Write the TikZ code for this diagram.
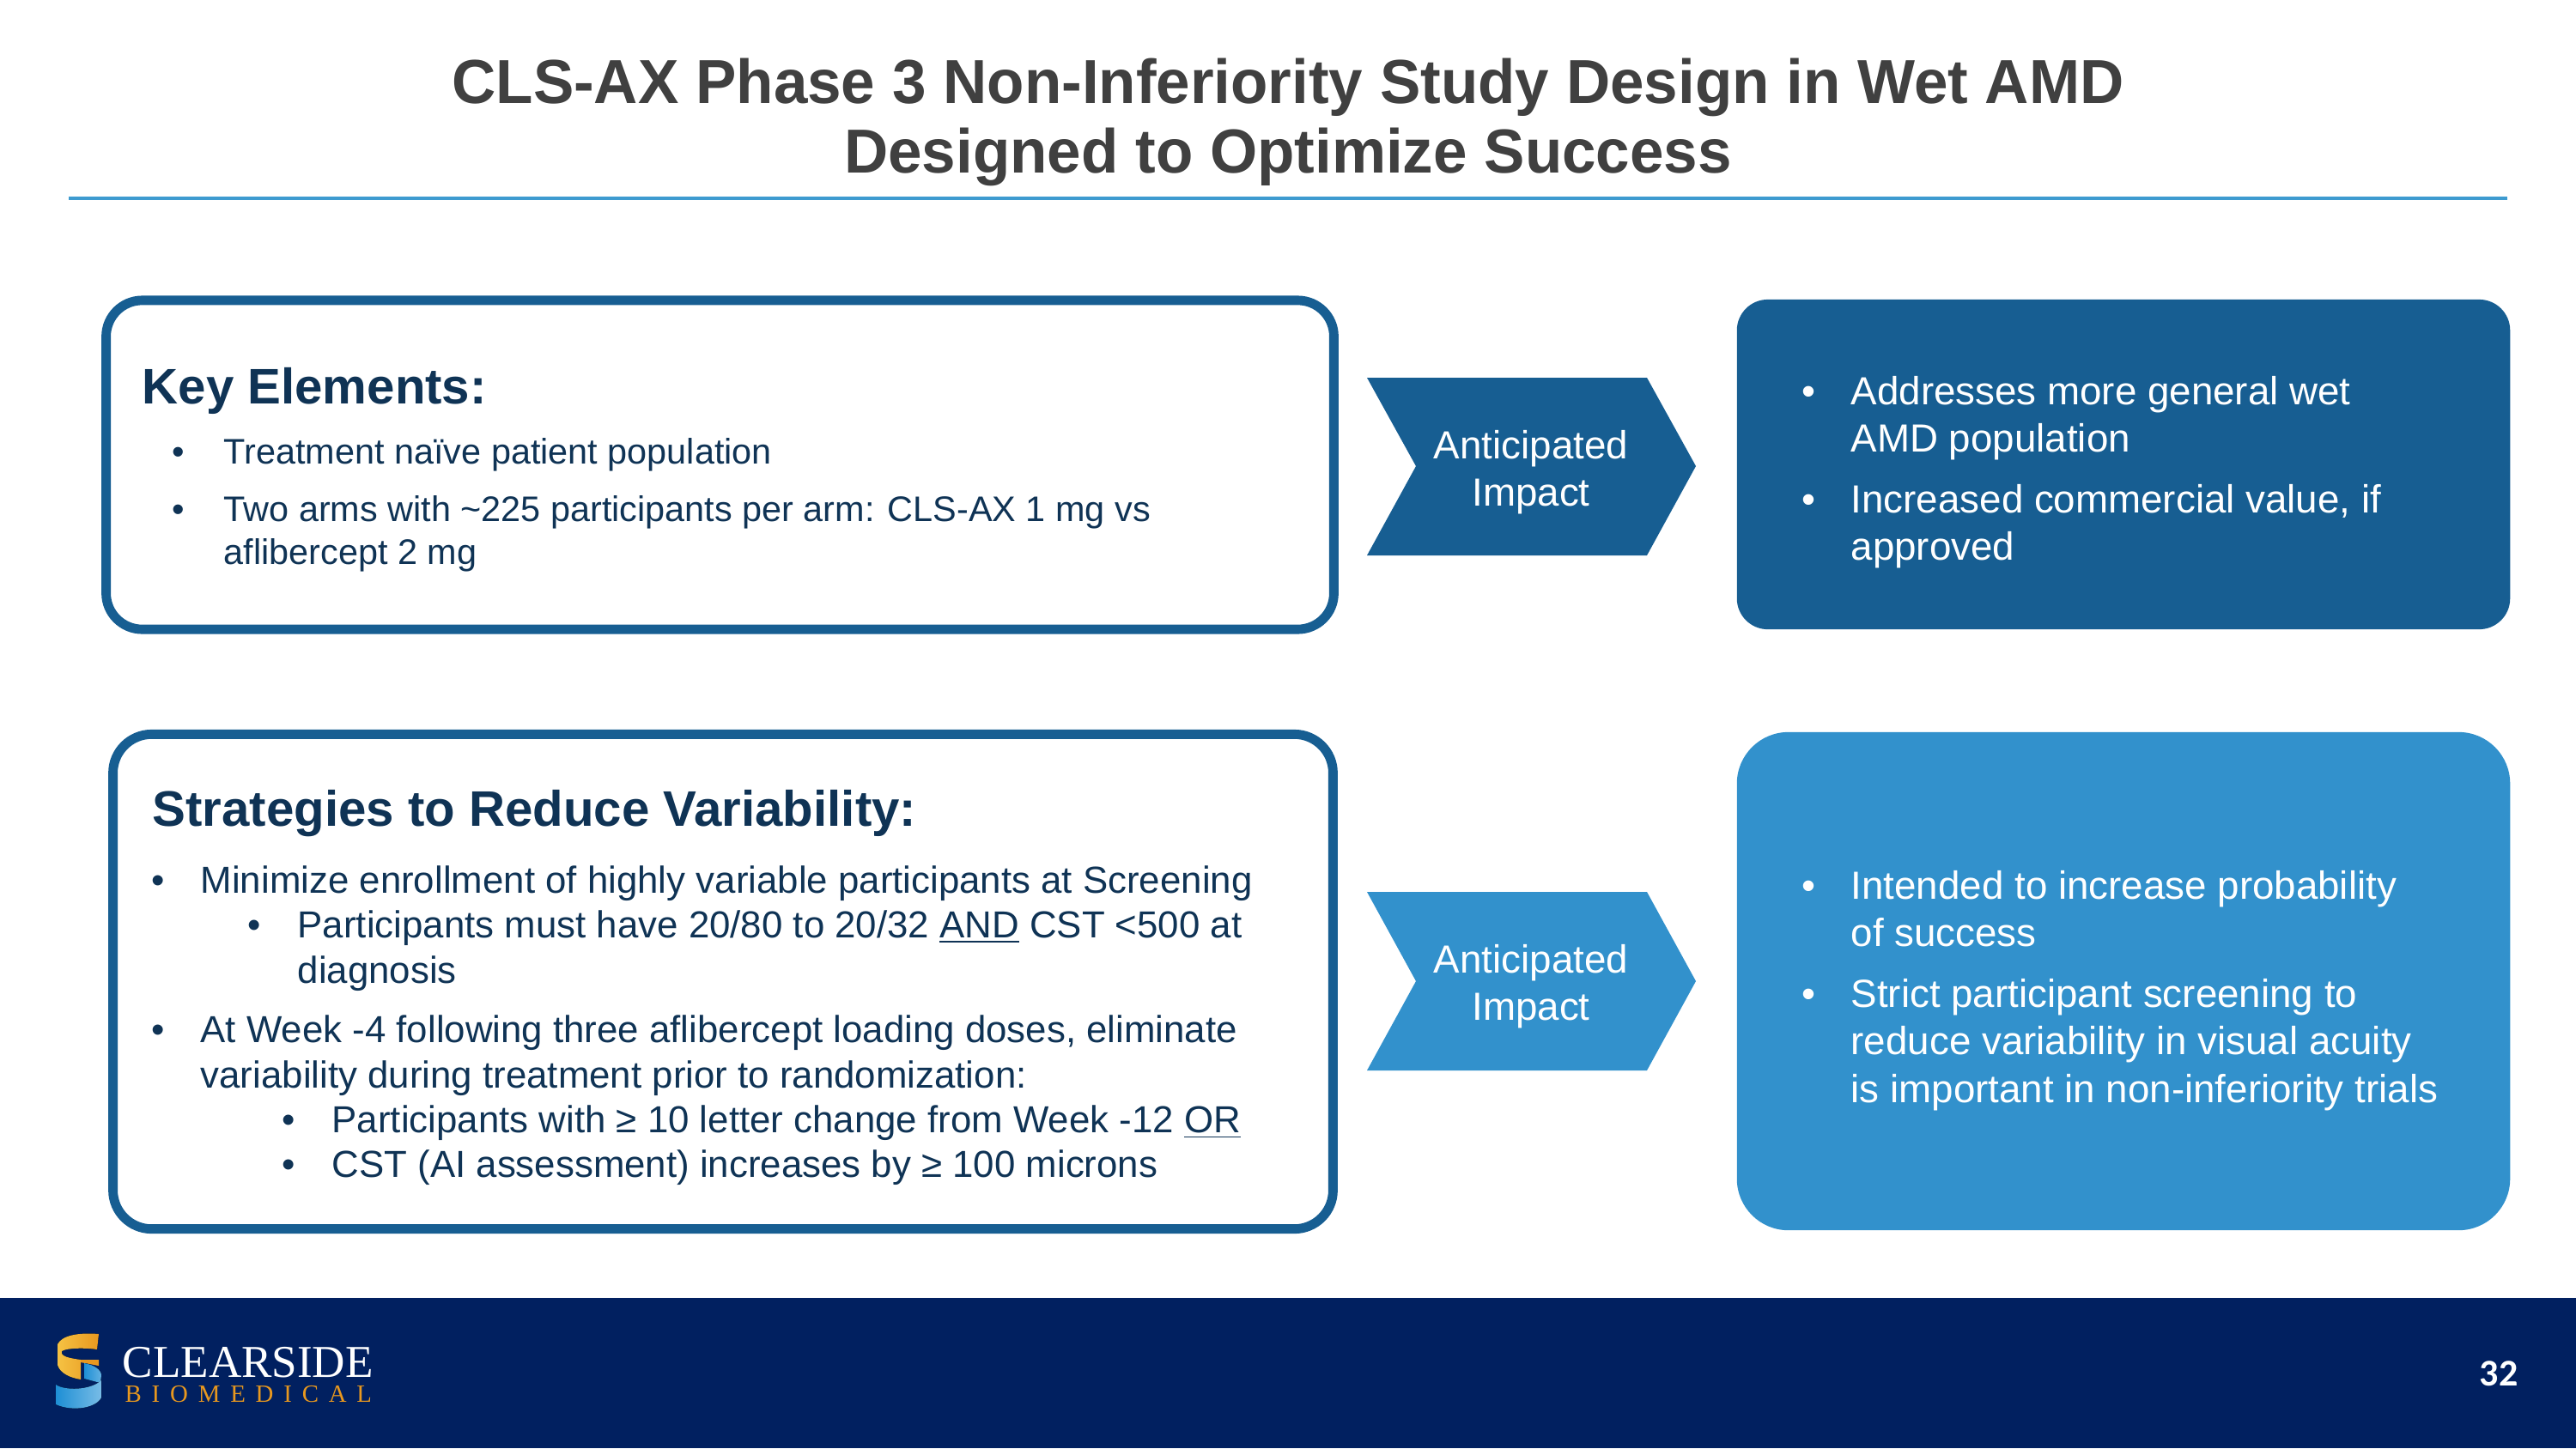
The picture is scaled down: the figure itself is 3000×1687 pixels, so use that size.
\documentclass[tikz,border=0pt]{standalone}
\usepackage{fontspec}
\usepackage{xcolor}
\setmainfont{Liberation Sans}
\newfontfamily\titlefont[FakeStretch=0.98]{Liberation Sans}
\newfontfamily\logofont{Liberation Serif}
\newfontfamily\logospaced[LetterSpace=41]{Liberation Serif}
\newfontfamily\pagefont{Carlito}
\usetikzlibrary{positioning}
\definecolor{darkblue}{HTML}{175E92}
\definecolor{lightblue}{HTML}{3291CC}
\definecolor{navy}{HTML}{012060}
\definecolor{inktext}{HTML}{0F3355}
\definecolor{titlegray}{HTML}{404040}
\definecolor{rulecolor}{HTML}{3E9BD0}
\definecolor{logoorange}{HTML}{E8981F}
\definecolor{logoyellow}{HTML}{F5C243}
\definecolor{logoblue}{HTML}{1E8FD5}

\begin{document}
\begin{tikzpicture}[x=0.01cm,y=-0.01cm]
	\tikzstyle{title_style} = [anchor=base,inner sep=0pt,text=titlegray,font={\titlefont\bfseries\fontsize{20.6pt}{24pt}\selectfont}]
	\tikzstyle{outline_style} = [draw=darkblue,line width=3.1pt,fill=white,rounded corners=0.42cm,inner sep=0pt]
	\tikzstyle{panel_style} = [rounded corners=0.36cm,inner sep=0pt]
	\tikzstyle{head_style} = [anchor=base west,inner sep=0pt,text=inktext,font={\bfseries\fontsize{16.55pt}{19pt}\selectfont}]
	\tikzstyle{small_style} = [anchor=base west,inner sep=0pt,text=inktext,font={\fontsize{11.77pt}{14pt}\selectfont}]
	\tikzstyle{body_style} = [anchor=base west,inner sep=0pt,text=inktext,font={\fontsize{12.46pt}{15pt}\selectfont}]
	\tikzstyle{white_style} = [anchor=base west,inner sep=0pt,text=white,font={\fontsize{13pt}{16pt}\selectfont}]
	\tikzstyle{chevron_text} = [anchor=base,inner sep=0pt,text=white,font={\fontsize{13pt}{16pt}\selectfont}]

	\useasboundingbox (0,0) rectangle (3000,1687);
	\fill[white] (0,0) rectangle (3000,1687);

	% heading
	\node[title_style] (title1) at (1500,120) {CLS-AX Phase 3 Non-Inferiority Study Design in Wet AMD};
	\node[title_style] (title2) at (1500,201) {Designed to Optimize Success};
	\draw[rulecolor,line width=0.9pt] (80,231) -- (2920,231);

	% top row
	\node[outline_style,minimum width=14.29cm,minimum height=3.83cm] (key_box) at (838.5,541.5) {};
	\node[head_style] (key_head) at (165,470) {Key Elements:};
	\node[small_style] (key_b1) at (200,540) {•};
	\node[small_style] (key_l1) at (260,540) {Treatment naïve patient population};
	\node[small_style] (key_b2) at (200,607) {•};
	\node[small_style] (key_l2) at (260,607) {Two arms with \textasciitilde225 participants per arm: CLS-AX 1 mg vs};
	\node[small_style] (key_l3) at (260,657) {aflibercept 2 mg};

	\fill[darkblue] (1592,440) -- (1918,440) -- (1975,543) -- (1918,647) -- (1592,647) -- (1649,543) -- cycle;
	\node[chevron_text] (impact1a) at (1783,534) {Anticipated};
	\node[chevron_text] (impact1b) at (1783,589) {Impact};

	\node[panel_style,fill=darkblue,minimum width=9cm,minimum height=3.84cm] (top_panel) at (2473,541) {};
	\node[white_style] (top_b1) at (2098,471) {•};
	\node[white_style] (top_l1) at (2155,471) {Addresses more general wet};
	\node[white_style] (top_l2) at (2155,526) {AMD population};
	\node[white_style] (top_b2) at (2098,597) {•};
	\node[white_style] (top_l3) at (2155,597) {Increased commercial value, if};
	\node[white_style] (top_l4) at (2155,652) {approved};

	% bottom row
	\node[outline_style,rounded corners=0.45cm,minimum width=14.2cm,minimum height=5.76cm] (var_box) at (842,1143.5) {};
	\node[head_style] (var_head) at (177,962) {Strategies to Reduce Variability:};
	\node[body_style] (var_b1) at (176,1040) {•};
	\node[body_style] (var_l1) at (233,1040) {Minimize enrollment of highly variable participants at Screening};
	\node[body_style] (var_b2) at (288,1092) {•};
	\node[body_style] (var_l2) at (346,1092) {Participants must have 20/80 to 20/32 \underline{AND} CST <500 at};
	\node[body_style] (var_l3) at (346,1145) {diagnosis};
	\node[body_style] (var_b3) at (176,1214) {•};
	\node[body_style] (var_l4) at (233,1214) {At Week -4 following three aflibercept loading doses, eliminate};
	\node[body_style] (var_l5) at (233,1267) {variability during treatment prior to randomization:};
	\node[body_style] (var_b4) at (328,1319) {•};
	\node[body_style] (var_l6) at (386,1319) {Participants with ≥ 10 letter change from Week -12 \underline{OR}};
	\node[body_style] (var_b5) at (328,1371) {•};
	\node[body_style] (var_l7) at (386,1371) {CST (AI assessment) increases by ≥ 100 microns};

	\fill[lightblue] (1592,1039) -- (1918,1039) -- (1975,1143) -- (1918,1247) -- (1592,1247) -- (1649,1143) -- cycle;
	\node[chevron_text] (impact2a) at (1783,1133) {Anticipated};
	\node[chevron_text] (impact2b) at (1783,1188) {Impact};

	\node[panel_style,rounded corners=0.6cm,fill=lightblue,minimum width=9cm,minimum height=5.8cm] (low_panel) at (2473,1143) {};
	\node[white_style] (low_b1) at (2098,1047) {•};
	\node[white_style] (low_l1) at (2155,1047) {Intended to increase probability};
	\node[white_style] (low_l2) at (2155,1102) {of success};
	\node[white_style] (low_b2) at (2098,1173) {•};
	\node[white_style] (low_l3) at (2155,1173) {Strict participant screening to};
	\node[white_style] (low_l4) at (2155,1228) {reduce variability in visual acuity};
	\node[white_style] (low_l5) at (2155,1284) {is important in non-inferiority trials};

	% footer
	\fill[navy] (0,1512) rectangle (3000,1687);
	\fill[left color=logoyellow,right color=logoorange] (115,1554) .. controls (90,1552) and (72,1556) .. (67,1566) -- (67,1590) .. controls (70,1600) and (82,1605) .. (94,1607) -- (94,1584) .. controls (80,1582) and (70,1580) .. (72,1574) .. controls (78,1570) and (100,1570) .. (113,1572) -- cycle;
	\fill[logoorange] (94,1584) -- (115,1584) -- (115,1591) -- (94,1587) -- cycle;
	\fill[left color=logoblue,right color=logoblue!70!white] (98,1588) .. controls (110,1590) and (118,1596) .. (118,1602) -- (117,1611) -- (98,1606) -- cycle;
	\fill[left color=logoblue,right color=logoblue!60!white] (65,1613) .. controls (75,1620) and (105,1620) .. (118,1608) -- (118,1628) .. controls (112,1640) and (85,1645) .. (65,1636) -- cycle;
	\node[anchor=base west,inner sep=0pt,text=white,font={\logofont\fontsize{15.1pt}{18pt}\selectfont}] (logo_name) at (142,1604) {CLEARSIDE};
	\node[anchor=base west,inner sep=0pt,text=logoorange,font={\logospaced\fontsize{8.2pt}{10pt}\selectfont}] (logo_sub) at (145,1633) {BIOMEDICAL};
	\node[anchor=base east,inner sep=0pt,text=white,font={\pagefont\bfseries\fontsize{12.5pt}{14pt}\selectfont}] (page_no) at (2933,1614) {32};
\end{tikzpicture}
\end{document}
